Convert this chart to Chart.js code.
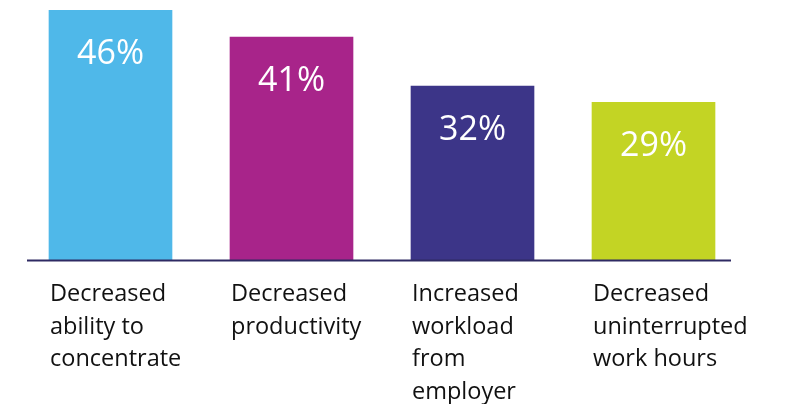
<!DOCTYPE html>
<html>
<head>
<meta charset="utf-8">
<script src="https://cdn.jsdelivr.net/npm/chart.js@4/dist/chart.umd.min.js"></script>
<style>
  html, body { margin: 0; padding: 0; background: #fff; }
  #wrap { width: 786px; height: 404px; }
</style>
</head>
<body>
<div id="wrap"><canvas id="chart"></canvas></div>
<script>
const categories = [
  ['Decreased', 'ability to', 'concentrate'],
  ['Decreased', 'productivity'],
  ['Increased', 'workload', 'from', 'employer'],
  ['Decreased', 'uninterrupted', 'work hours']
];
const values = [46, 41, 32, 29];
const barColors = ['#4fb8e9', '#a8248a', '#3c3588', '#c3d424'];

const FONT = '"Open Sans", "Noto Sans", sans-serif';

// draws the baseline, value labels inside bars and the category labels below
const labelPlugin = {
  id: 'labels',
  afterDatasetsDraw(chart) {
    const ctx = chart.ctx;
    const area = chart.chartArea;
    const y0 = chart.scales.y.getPixelForValue(0);
    const bars = chart.getDatasetMeta(0).data;

    ctx.save();
    ctx.strokeStyle = '#2e2a63';
    ctx.lineWidth = 2;
    ctx.beginPath();
    ctx.moveTo(area.left + 7, y0 + 0.5);
    ctx.lineTo(area.right - 13, y0 + 0.5);
    ctx.stroke();

    bars.forEach((bar, i) => {
      const left = bar.x - bar.width / 2;
      ctx.fillStyle = '#ffffff';
      ctx.font = '34px ' + FONT;
      ctx.textAlign = 'center';
      ctx.textBaseline = 'alphabetic';
      ctx.fillText(values[i] + '%', bar.x, bar.y + 54);

      ctx.fillStyle = '#111111';
      ctx.font = '23.5px ' + FONT;
      ctx.textAlign = 'left';
      categories[i].forEach((line, j) => {
        ctx.fillText(line, left + 1, y0 + 41 + j * 32.5);
      });
    });
    ctx.restore();
  }
};

new Chart(document.getElementById('chart'), {
  type: 'bar',
  data: {
    labels: categories.map(c => c.join(' ')),
    datasets: [{
      data: values,
      backgroundColor: barColors,
      borderWidth: 0,
      barThickness: 123
    }]
  },
  options: {
    responsive: true,
    maintainAspectRatio: false,
    animation: false,
    layout: { padding: { top: 10, bottom: 144, left: 20, right: 42 } },
    plugins: { legend: { display: false }, tooltip: { enabled: false } },
    scales: {
      x: { display: false },
      y: { display: false, min: 0, max: 46 }
    }
  },
  plugins: [labelPlugin]
});
</script>
</body>
</html>
